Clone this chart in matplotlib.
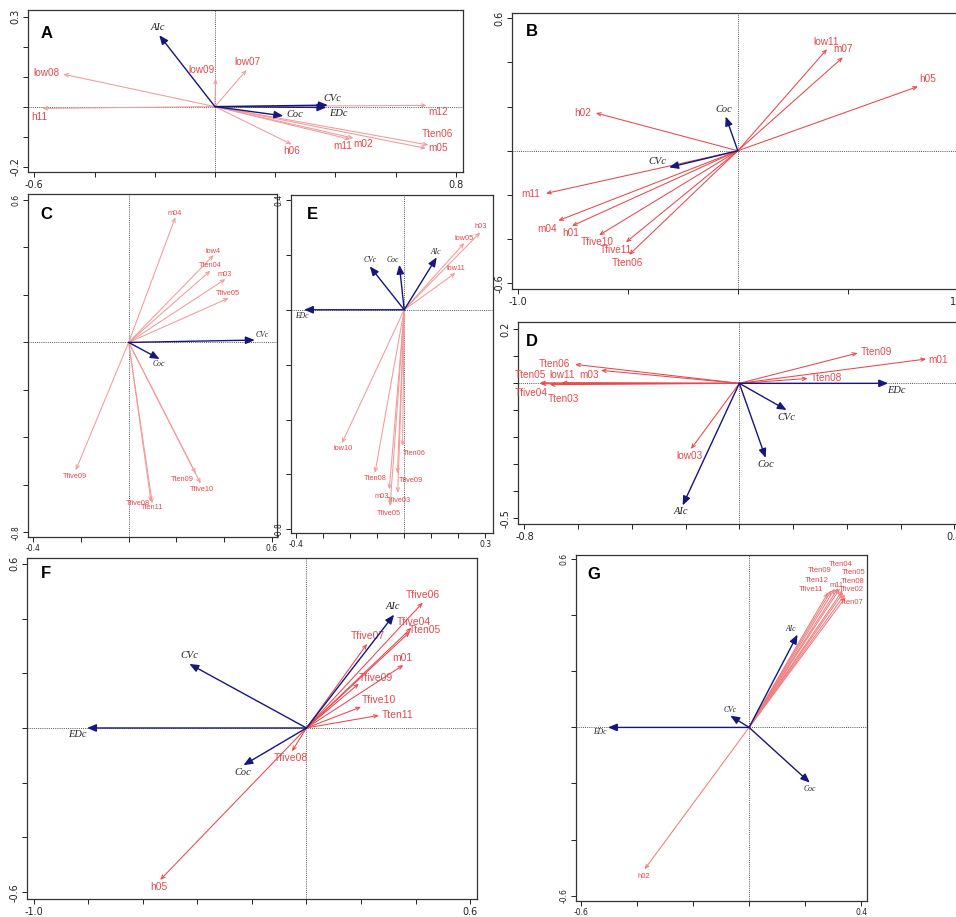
import matplotlib.pyplot as plt

RED = '#e8474c'
PINK = '#f29a9a'
NAVY = '#16167e'

# ---- A ----
a_env = ['AIc', 'CVc', 'EDc', 'Coc']
a_env_x = [-0.185, 0.375, 0.370, 0.227]
a_env_y = [0.238, 0.005, -0.003, -0.031]
a_sp = ['low08', 'h11', 'low09', 'low07', 'm12', 'Tten06', 'm05', 'm11', 'm02', 'h06']
a_sp_x = [-0.504, -0.573, 0.002, 0.105, 0.703, 0.709, 0.701, 0.449, 0.460, 0.255]
a_sp_y = [0.108, -0.006, 0.093, 0.122, 0.004, -0.128, -0.139, -0.109, -0.105, -0.126]

# ---- B ----
b_env = ['Coc', 'CVc']
b_env_x = [-0.055, -0.312]
b_env_y = [0.155, -0.075]
b_sp = ['low11', 'm07', 'h05', 'h02', 'm11', 'm04', 'h01', 'Tfive10', 'Tfive11', 'Tten06']
b_sp_x = [0.405, 0.477, 0.818, -0.645, -0.871, -0.815, -0.753, -0.630, -0.508, -0.494]
b_sp_y = [0.460, 0.423, 0.291, 0.171, -0.193, -0.316, -0.340, -0.382, -0.414, -0.471]

# ---- C ----
c_env = ['CVc', 'Coc']
c_env_x = [0.529, 0.130]
c_env_y = [0.010, -0.070]
c_sp = ['m04', 'low4', 'Tten04', 'm03', 'Tfive05', 'Tfive09', 'Tten09', 'Tfive10', 'Tfive08', 'Tten11']
c_sp_x = [0.196, 0.357, 0.343, 0.406, 0.420, -0.222, 0.281, 0.302, 0.094, 0.099]
c_sp_y = [0.527, 0.368, 0.302, 0.267, 0.187, -0.538, -0.552, -0.594, -0.671, -0.678]

# ---- D ----
d_env = ['EDc', 'CVc', 'Coc', 'AIc']
d_env_x = [0.554, 0.176, 0.098, -0.211]
d_env_y = [0.000, -0.099, -0.276, -0.452]
d_sp = ['Tten09', 'm01', 'Tten08', 'Tten06', 'm03', 'low11', 'Tten05', 'Tfive04', 'Tten03', 'low03']
d_sp_x = [0.440, 0.695, 0.254, -0.611, -0.515, -0.661, -0.742, -0.740, -0.705, -0.180]
d_sp_y = [0.112, 0.090, 0.018, 0.070, 0.048, 0.002, 0.002, -0.002, -0.005, -0.243]

# ---- E ----
e_env = ['EDc', 'CVc', 'Coc', 'AIc']
e_env_x = [-0.370, -0.127, -0.018, 0.120]
e_env_y = [0.000, 0.158, 0.164, 0.191]
e_sp = ['h03', 'low05', 'low11', 'low10', 'Tten06', 'Tten08', 'Tfive09', 'm03', 'Tfive03', 'Tfive05']
e_sp_x = [0.281, 0.222, 0.189, -0.230, -0.006, -0.108, -0.025, -0.055, -0.024, -0.052]
e_sp_y = [0.282, 0.243, 0.134, -0.486, -0.496, -0.594, -0.596, -0.654, -0.667, -0.715]

# ---- F ----
f_env = ['EDc', 'CVc', 'Coc', 'AIc']
f_env_x = [-0.804, -0.429, -0.231, 0.321]
f_env_y = [0.000, 0.234, -0.136, 0.414]
f_sp = ['Tfive06', 'Tfive04', 'Tten05', 'Tfive07', 'm01', 'Tfive09', 'Tfive10', 'Tten11', 'Tfive08', 'h05']
f_sp_x = [0.426, 0.385, 0.379, 0.222, 0.355, 0.192, 0.200, 0.265, -0.053, -0.536]
f_sp_y = [0.458, 0.366, 0.351, 0.307, 0.230, 0.162, 0.077, 0.046, -0.085, -0.555]

# ---- G ----
g_env = ['EDc', 'CVc', 'Coc', 'AIc']
g_env_x = [-0.504, -0.067, 0.217, 0.173]
g_env_y = [0.000, 0.042, -0.197, 0.331]
g_sp = ['h02', 'Tfive11', 'Tten12', 'Tten09', 'Tten04', 'm11', 'Tten05', 'Tten08', 'Tfive02', 'Tten07']
g_sp_x = [-0.373, 0.282, 0.294, 0.306, 0.318, 0.324, 0.334, 0.336, 0.342, 0.345]
g_sp_y = [-0.506, 0.481, 0.489, 0.495, 0.497, 0.495, 0.489, 0.481, 0.474, 0.465]


def frame(ax, xlim, ylim, xticks, yticks, fs):
    ax.set_xlim(xlim)
    ax.set_ylim(ylim)
    ax.set_xticks(xticks)
    ax.set_xticklabels([str(xticks[0])] + [''] * (len(xticks) - 2) + [str(xticks[-1])], fontsize=fs)
    ax.set_yticks(yticks)
    ax.set_yticklabels([str(yticks[0])] + [''] * (len(yticks) - 2) + [str(yticks[-1])],
                       fontsize=fs, rotation=90, va='center')
    ax.tick_params(direction='out', length=3.5, width=0.7, pad=2, colors='#222')
    for s in ax.spines.values():
        s.set_linewidth(0.9)
        s.set_color('#333333')
    ax.axhline(0, ls=(0, (1, 1.2)), color='#555555', lw=0.7, zorder=0)
    ax.axvline(0, ls=(0, (1, 1.2)), color='#555555', lw=0.7, zorder=0)


def biplot(ax, letter, pos, env, ex, ey, eoff, sp, sx, sy, soff, line_col, fs, efs):
    for name, x, y, off in zip(sp, sx, sy, soff):
        ax.annotate('', xy=(x, y), xytext=(0, 0),
                    arrowprops=dict(arrowstyle='->,head_length=0.35,head_width=0.15',
                                    color=line_col, lw=0.75, shrinkA=0, shrinkB=0,
                                    mutation_scale=8))
        ax.annotate(name, xy=(x, y), xytext=off, textcoords='offset pixels',
                    ha='center', va='center', fontsize=fs, color=RED,
                    family='Liberation Sans')
    for name, x, y, off in zip(env, ex, ey, eoff):
        ax.annotate('', xy=(x, y), xytext=(0, 0),
                    arrowprops=dict(arrowstyle='-|>,head_length=0.6,head_width=0.25',
                                    color=NAVY, lw=1.0, shrinkA=0, shrinkB=0,
                                    mutation_scale=9))
        ax.annotate(name, xy=(x, y), xytext=off, textcoords='offset pixels',
                    ha='center', va='center', fontsize=efs, color='#222222',
                    family='Liberation Serif', style='italic')
    ax.text(pos[0], pos[1], letter, transform=ax.transAxes, ha='center', va='center',
            fontsize=12, fontweight='bold', family='Liberation Sans')


W, H = 956, 917
fig = plt.figure(figsize=(W / 100, H / 100), dpi=100)


def box(x0, y0, x1, y1):
    return fig.add_axes([x0 / W, 1 - y1 / H, (x1 - x0) / W, (y1 - y0) / H])


# A
ax = box(28, 10, 463, 172)
frame(ax, (-0.621, 0.824), (-0.218, 0.322),
      [-0.6, -0.4, -0.2, 0, 0.2, 0.4, 0.6, 0.8], [-0.2, -0.1, 0, 0.1, 0.2, 0.3], 7)
biplot(ax, 'A', (0.043, 0.856), a_env, a_env_x, a_env_y,
       [(-1, 8), (5, 7), (12, -6), (12, 1)],
       a_sp, a_sp_x, a_sp_y,
       [(-17, 1), (-3, -9), (-14, 9), (1, 8), (12, -7), (9, 11), (12, 0), (-7, -7), (10, -6), (0, -7)],
       PINK, 7.2, 7.5)

# B
ax = box(511.7, 12.7, 958, 289.3)
frame(ax, (-1.027, 1.0), (-0.627, 0.625),
      [-1.0, -0.5, 0, 0.5, 1.0], [-0.6, -0.4, -0.2, 0, 0.2, 0.4, 0.6], 7)
biplot(ax, 'B', (0.045, 0.931), b_env, b_env_x, b_env_y,
       [(-2, 7), (-12, 6)],
       b_sp, b_sp_x, b_sp_y,
       [(-1, 7), (0, 8), (10, 7), (-13, 0), (-15, -1), (-11, -8), (-1, -7), (-2, -7), (-10, -8), (-2, -8)],
       RED, 7.2, 7.5)

# C
ax = box(28.3, 194, 276.7, 536.7)
frame(ax, (-0.421, 0.621), (-0.818, 0.625),
      [-0.4, -0.2, 0, 0.2, 0.4, 0.6], [-0.8, -0.6, -0.4, -0.2, 0, 0.2, 0.4, 0.6], 5.5)
biplot(ax, 'C', (0.074, 0.939), c_env, c_env_x, c_env_y,
       [(7, 5), (-1, -5)],
       c_sp, c_sp_x, c_sp_y,
       [(-1, 4), (-1, 4), (0, 5), (-1, 5), (-1, 5), (-1, -6), (-13, -6), (1, -6), (-13, -2), (0, -4)],
       PINK, 5.3, 5.5)

# E
ax = box(291, 195, 493.3, 532.7)
frame(ax, (-0.418, 0.329), (-0.812, 0.418),
      [-0.4, -0.3, -0.2, -0.1, 0, 0.1, 0.2, 0.3], [-0.8, -0.6, -0.4, -0.2, 0, 0.2, 0.4], 5.5)
biplot(ax, 'E', (0.105, 0.941), e_env, e_env_x, e_env_y,
       [(-2, -6), (0, 6), (-7, 5), (-1, 5)],
       e_sp, e_sp_x, e_sp_y,
       [(0, 6), (0, 5), (0, 4), (1, -5), (12, -8), (0, -6), (13, -7), (-8, -7), (1, -8), (-1, -7)],
       PINK, 5.3, 5.5)

# D
ax = box(517.7, 322.3, 958, 524.3)
frame(ax, (-0.825, 0.814), (-0.522, 0.226),
      [-0.8, -0.6, -0.4, -0.2, 0, 0.2, 0.4, 0.6, 0.8],
      [-0.5, -0.4, -0.3, -0.2, -0.1, 0, 0.1, 0.2], 7)
biplot(ax, 'D', (0.033, 0.904), d_env, d_env_x, d_env_y,
       [(8, -7), (0, -7), (0, -7), (-2, -6)],
       d_sp, d_sp_x, d_sp_y,
       [(19, 1), (12, -1), (19, 0), (-21, 0), (-12, -5), (0, 8), (-10, 8), (-9, -9), (13, -14), (-1, -7)],
       RED, 7.2, 7.5)

# F
ax = box(27.3, 558.3, 477.3, 899.3)
frame(ax, (-1.023, 0.626), (-0.626, 0.62),
      [-1.0, -0.8, -0.6, -0.4, -0.2, 0, 0.2, 0.4, 0.6], [-0.6, -0.4, -0.2, 0, 0.2, 0.4, 0.6], 7)
biplot(ax, 'F', (0.042, 0.954), f_env, f_env_x, f_env_y,
       [(-10, -7), (0, 8), (-1, -7), (-1, 8)],
       f_sp, f_sp_x, f_sp_y,
       [(0, 8), (2, 6), (15, 2), (1, 8), (-1, 7), (17, 6), (18, 7), (19, 0), (-1, -7), (-1, -7)],
       RED, 7.5, 7.5)

# G
ax = box(576, 554.7, 866.7, 900.7)
frame(ax, (-0.618, 0.420), (-0.618, 0.616),
      [-0.6, -0.4, -0.2, 0, 0.2, 0.4], [-0.6, -0.4, -0.2, 0, 0.2, 0.4, 0.6], 5.5)
biplot(ax, 'G', (0.06, 0.944), g_env, g_env_x, g_env_y,
       [(-8, -5), (0, 6), (0, -6), (-7, 6)],
       g_sp, g_sp_x, g_sp_y,
       [(-1, -7), (-17, 3), (-15, 10), (-15, 18), (3, 24), (-3, 3), (11, 18), (9, 11), (6, 5), (6, -5)],
       '#f07c7c', 5.5, 5.5)

fig.savefig('out.png', dpi=100)
